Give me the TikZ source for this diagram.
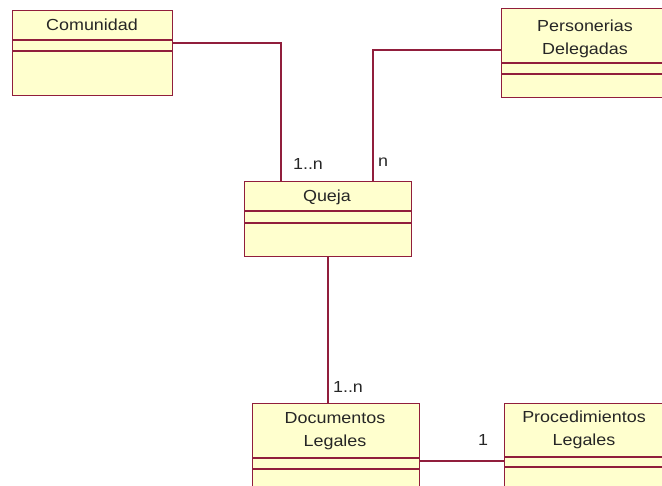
\documentclass[tikz,border=0pt]{standalone}
\usepackage{fontspec}
\setmainfont{Liberation Sans}[FakeStretch=1.12]
\usetikzlibrary{calc}
\definecolor{umlborder}{RGB}{145,30,60}
\definecolor{umlfill}{RGB}{255,255,206}
\tikzset{
  classbox/.style={draw=umlborder, fill=umlfill, line width=1.3pt, anchor=north west, inner sep=0pt},
  divider/.style={draw=umlborder, line width=1.3pt},
  assoc/.style={draw=umlborder, line width=1.3pt},
  title/.style={font=\fontsize{16}{23}\selectfont, align=center, inner sep=0pt, text=black!85},
  mult/.style={font=\fontsize{16}{23}\selectfont, inner sep=0pt, text=black!85}
}
\begin{document}
\begin{tikzpicture}[x=1pt,y=-1pt]
\useasboundingbox (0,0) rectangle (662,486);

% class boxes
\node[classbox, minimum width=160pt, minimum height=85pt] (com) at (12,10) {};
\node[classbox, minimum width=168pt, minimum height=89pt] (per) at (501,8) {};
\node[classbox, minimum width=167pt, minimum height=75pt] (que) at (244,181) {};
\node[classbox, minimum width=167pt, minimum height=100pt] (doc) at (252,403) {};
\node[classbox, minimum width=162pt, minimum height=100pt] (pro) at (504,403) {};

% compartment dividers
\draw[divider] (12,40) -- (172,40) (12,51) -- (172,51);
\draw[divider] (501,63) -- (669,63) (501,74) -- (669,74);
\draw[divider] (244,211) -- (411,211) (244,223) -- (411,223);
\draw[divider] (252,458) -- (419,458) (252,469) -- (419,469);
\draw[divider] (504,457) -- (666,457) (504,467) -- (666,467);

% class names
\node[title] (comT) at (92,25) {Comunidad};
\node[title] (perT) at (585,38.5) {Personerias\\Delegadas};
\node[title] (queT) at (327,197) {Queja};
\node[title] (docT) at (335,431) {Documentos\\Legales};
\node[title] (proT) at (584,430) {Procedimientos\\Legales};

% associations
\coordinate (comQ) at (281,181);
\coordinate (perQ) at (373,181);
\draw[assoc] (com.east |- 0,43) -| (comQ);
\draw[assoc] (per.west |- 0,50) -| (perQ);
\draw[assoc] (que.south -| 328,0) -- (doc.north -| 328,0);
\draw[assoc] (doc.east |- 0,461) -- (pro.west |- 0,461);

% multiplicities
\node[mult] (m1) at (308,164) {1..n};
\node[mult] (m2) at (383,162) {n};
\node[mult] (m3) at (348,387) {1..n};
\node[mult] (m4) at (483,440) {1};
\end{tikzpicture}
\end{document}
